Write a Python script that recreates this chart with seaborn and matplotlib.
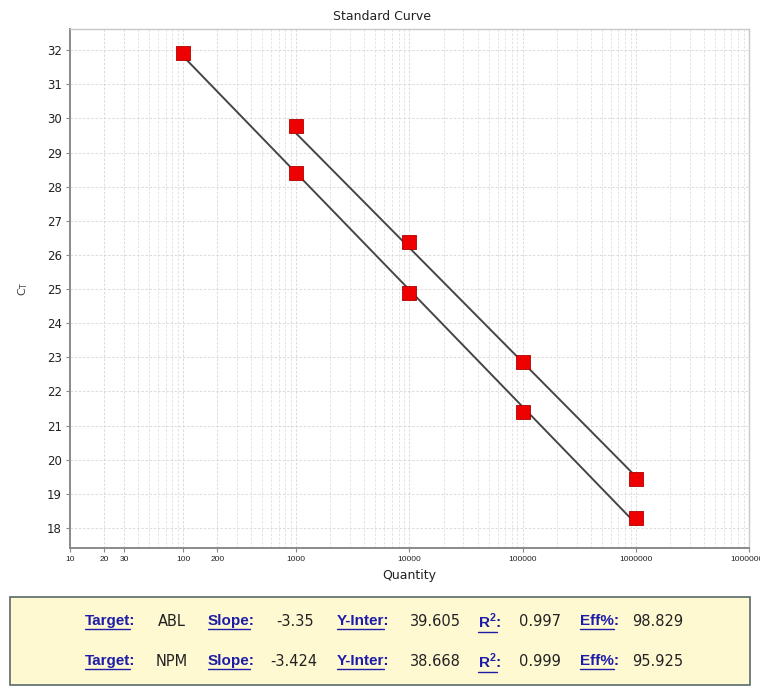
import matplotlib
matplotlib.use("Agg")
import matplotlib.pyplot as plt
from matplotlib.patches import Rectangle
import numpy as np
import pandas as pd
import seaborn as sns

# standard curve data
abl_qty = [1000, 10000, 100000, 1000000]
abl_ct = [29.78, 26.37, 22.86, 19.42]
npm_qty = [100, 1000, 10000, 100000, 1000000]
npm_ct = [31.92, 28.39, 24.87, 21.41, 18.30]

targets = ["ABL", "NPM"]
slopes = ["-3.35", "-3.424"]
intercepts = ["39.605", "38.668"]
r2_values = ["0.997", "0.999"]
effs = ["98.829", "95.925"]

x_ticks = [10, 20, 30, 100, 200, 1000, 10000, 100000, 1000000, 10000000]
y_ticks = list(range(18, 33))

sns.set_style("white")
plt.rcParams["font.family"] = ["DejaVu Sans"]

W, H = 760, 689
fig = plt.figure(figsize=(W / 100, H / 100), dpi=100)
ax = fig.add_axes([70 / W, 1 - 548 / H, 679 / W, 519 / H])

points = pd.concat([
    pd.DataFrame({"qty": abl_qty, "ct": abl_ct, "target": "ABL"}),
    pd.DataFrame({"qty": npm_qty, "ct": npm_ct, "target": "NPM"}),
])

# fitted lines from slope / intercept
fit_rows = []
for name, qty, s, b in [("ABL", abl_qty, slopes[0], intercepts[0]),
                        ("NPM", npm_qty, slopes[1], intercepts[1])]:
    q = np.array([min(qty), max(qty)], dtype=float)
    fit_rows.append(pd.DataFrame({"qty": q, "ct": float(b) + float(s) * np.log10(q), "target": name}))
fits = pd.concat(fit_rows)

ax.set_xscale("log")
sns.lineplot(data=fits, x="qty", y="ct", units="target", estimator=None,
             color="#454545", lw=1.4, ax=ax, zorder=3)
sns.scatterplot(data=points, x="qty", y="ct", marker="s", s=100, color="#ee0000",
                edgecolor="#b00000", linewidth=0.6, ax=ax, zorder=4, legend=False)

ax.set_xlim(10, 10000000)
ax.set_ylim(17.41, 32.62)
ax.set_xticks(x_ticks)
ax.set_xticklabels([str(t) for t in x_ticks], fontsize=6, color="#222222",
                   family="Liberation Sans")
ax.xaxis.set_minor_formatter(matplotlib.ticker.NullFormatter())
ax.set_yticks(y_ticks)
ax.set_yticklabels([str(t) for t in y_ticks], fontsize=8.5, color="#222222")
ax.tick_params(axis="both", which="major", length=3, width=0.8, color="#888888", pad=3,
               bottom=True, left=True)
ax.tick_params(axis="x", which="minor", length=0)

ax.grid(True, which="major", axis="both", ls=(0, (3, 2)), lw=0.6, color="#d6d6d6")
ax.grid(True, which="minor", axis="x", ls=(0, (3, 2)), lw=0.6, color="#dedede")

for side in ["left", "bottom"]:
    ax.spines[side].set_color("#8a8a8a")
    ax.spines[side].set_linewidth(1.4)
for side in ["top", "right"]:
    ax.spines[side].set_color("#c8c8c8")
    ax.spines[side].set_linewidth(1.0)

fig.text(382 / W, 1 - 16 / H, "Standard Curve", fontsize=9, color="#222222",
         ha="center", va="center")
ax.set_xlabel("Quantity", fontsize=9, labelpad=4, color="#222222")
ax.set_ylabel("C$_\\mathregular{T}$", fontsize=8, labelpad=12, color="#444444")

# summary box underneath
box = Rectangle((10 / W, 1 - 685 / H), 740 / W, 88 / H, transform=fig.transFigure,
                facecolor="#fff9d2", edgecolor="#5a6a6a", lw=1.2)
fig.patches.append(box)

link = "#1c1ca8"
renderer = fig.canvas.get_renderer()
link_font = dict(fontsize=11, fontweight="bold", family="Liberation Sans")


def link_text(x, y, word, suffix=":"):
    t = fig.text(x / W, 1 - y / H, word + suffix, color=link, va="center", ha="left",
                 **link_font)
    bb = t.get_window_extent(renderer=renderer)
    tmp = fig.text(0, 0, word, **link_font)
    w = tmp.get_window_extent(renderer=renderer).width
    tmp.remove()
    yl = (bb.y0 - 1) / H
    fig.add_artist(plt.Line2D([bb.x0 / W, (bb.x0 + w) / W], [yl, yl],
                              transform=fig.transFigure, color=link, lw=1.0))


def plain_text(x, y, label):
    fig.text(x / W, 1 - y / H, label, fontsize=10.5, color="#222222", va="center", ha="left")


for i in range(2):
    y = 621 + 40 * i
    link_text(85, y, "Target")
    plain_text(158 if i == 0 else 156, y, targets[i])
    link_text(208, y, "Slope")
    plain_text(276 if i == 0 else 270, y, slopes[i])
    link_text(337, y, "Y-Inter")
    plain_text(410, y, intercepts[i])
    link_text(478, y, "R$^\\mathregular{2}$")
    plain_text(519, y, r2_values[i])
    link_text(580, y, "Eff%")
    plain_text(632, y, effs[i])

fig.savefig("out.png", dpi=100)
